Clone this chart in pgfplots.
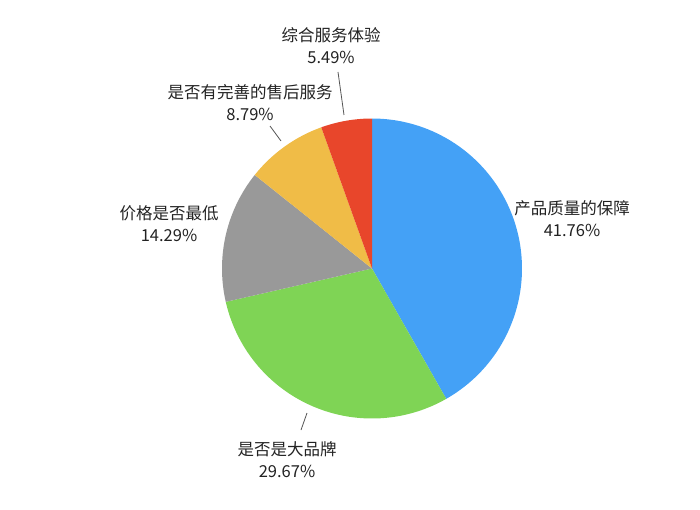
\documentclass[border=0pt]{standalone}
\usepackage{fontspec}
\setmainfont{Noto Sans CJK SC}
\usepackage{pgfplots}
\pgfplotsset{compat=1.18}
\definecolor{cblue}{HTML}{44A1F6}
\definecolor{cgreen}{HTML}{7FD455}
\definecolor{cgray}{HTML}{999999}
\definecolor{cyellow}{HTML}{F0BC47}
\definecolor{cred}{HTML}{E8462B}
\definecolor{ctext}{HTML}{222222}
\definecolor{cline}{HTML}{555555}
% slice values in percent, in drawing order (clockwise from 12 o'clock)
\def\cx{372}\def\cy{240.5}\def\rr{150}
\newcommand{\pieslice}[3]{%
  \pgfmathsetmacro{\angA}{90-3.6*#1}%
  \pgfmathsetmacro{\angB}{90-3.6*(#1+#2)}%
  \edef\doslice{\noexpand\addplot[fill=#3, draw=none, domain=\angB:\angA, samples=90]
    ({\cx+\rr*cos(x)},{\cy+\rr*sin(x)}) -- (axis cs:\cx,\cy) -- cycle;}%
  \doslice
}
\begin{document}
\begin{tikzpicture}
\begin{axis}[
  width=700pt, height=509pt, scale only axis,
  xmin=0, xmax=700, ymin=0, ymax=509,
  hide axis, clip=false,
]
\path (axis cs:0,0) rectangle (axis cs:700,509);
\pieslice{0}{41.76}{cblue}
\pieslice{41.76}{29.67}{cgreen}
\pieslice{71.43}{14.29}{cgray}
\pieslice{85.72}{8.79}{cyellow}
\pieslice{94.51}{5.49}{cred}
% leader lines
\draw[cline, line width=0.8pt] (axis cs:338,437) -- (axis cs:344,394);
\draw[cline, line width=0.8pt] (axis cs:270,383) -- (axis cs:281,368);
\draw[cline, line width=0.8pt] (axis cs:307,96) -- (axis cs:301,79);
% labels
\tikzset{lbl/.style={align=center, inner sep=0pt, text=ctext, font=\fontsize{16.5}{22}\selectfont}}
\node[lbl] at (axis cs:331,463.5) {综合服务体验\\5.49\%};
\node[lbl] at (axis cs:250,406.5) {是否有完善的售后服务\\8.79\%};
\node[lbl] at (axis cs:169,285) {价格是否最低\\14.29\%};
\node[lbl] at (axis cs:572,290) {产品质量的保障\\41.76\%};
\node[lbl] at (axis cs:287,49) {是否是大品牌\\29.67\%};
\end{axis}
\end{tikzpicture}
\end{document}
